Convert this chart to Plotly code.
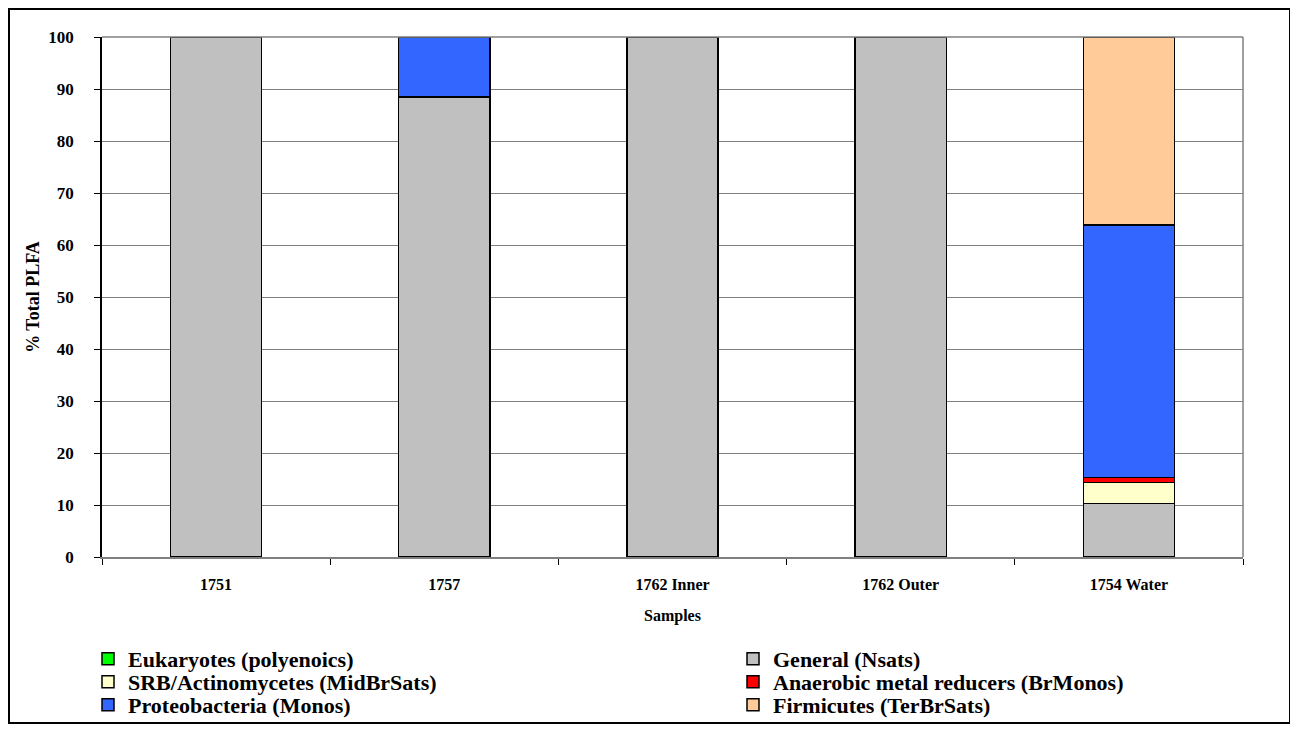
import plotly.graph_objects as go

samples = ["1751", "1757", "1762 Inner", "1762 Outer", "1754 Water"]
series_names = [
    "Eukaryotes (polyenoics)",
    "General (Nsats)",
    "SRB/Actinomycetes (MidBrSats)",
    "Anaerobic metal reducers (BrMonos)",
    "Proteobacteria (Monos)",
    "Firmicutes (TerBrSats)",
]
eukaryotes = [0, 0, 0, 0, 0]
general = [100, 88.5, 100, 100, 10.3]
srb = [0, 0, 0, 0, 4.0]
anaerobic = [0, 0, 0, 0, 1.0]
proteobacteria = [0, 11.5, 0, 0, 48.5]
firmicutes = [0, 0, 0, 0, 36.2]
colors = ["#00FF00", "#C0C0C0", "#FFFFCC", "#FF0000", "#3366FF", "#FFCC99"]
yticks = [0, 10, 20, 30, 40, 50, 60, 70, 80, 90, 100]

values = [eukaryotes, general, srb, anaerobic, proteobacteria, firmicutes]

FONT = "Liberation Serif, Times New Roman, serif"

# page body has an 8px margin; layout coords = screen coords - OFF
OFF = 8
W, H = 1283, 717
plot_left, plot_right, plot_top, plot_bottom = 102, 1243, 37, 557  # screen px
L = plot_left - OFF
R = W - (plot_right - OFF)
T = plot_top - OFF
B = H - (plot_bottom - OFF)
pw, ph = W - L - R, H - T - B


def px_x(x):
    return (x - OFF - L) / pw


def px_y(y):
    return (plot_bottom - y) / ph


legend_ids = ["legend", "legend2", "legend3", "legend4", "legend5", "legend6"]
col_x = [88, 733]
row_y = [659, 682, 705]

fig = go.Figure()
for i, (name, vals, col) in enumerate(zip(series_names, values, colors)):
    fig.add_trace(go.Bar(
        x=samples, y=vals, name=name,
        legend=legend_ids[i],
        marker=dict(color=col, line=dict(color="#000000", width=1.5)),
    ))

legend_layouts = {}
for i, lid in enumerate(legend_ids):
    r, c = divmod(i, 2)
    legend_layouts[lid] = dict(
        x=px_x(col_x[c]), y=px_y(row_y[r]),
        xanchor="left", yanchor="middle",
        font=dict(family=FONT, size=22, color="black", weight="bold"),
        bgcolor="rgba(0,0,0,0)", borderwidth=0,
    )

fig.update_layout(
    width=W, height=H,
    barmode="stack", bargap=0.6,
    margin=dict(l=L, r=R, t=T, b=B, pad=0, autoexpand=False),
    plot_bgcolor="white", paper_bgcolor="white",
    font=dict(family=FONT, color="black"),
    showlegend=True,
    xaxis=dict(
        showline=True, linecolor="#808080", linewidth=1.5,
        ticks="outside", ticklen=6, tickcolor="#000000",
        tickson="boundaries",
        ticklabelstandoff=12,
        tickfont=dict(family=FONT, size=16, weight="bold"),
        title=dict(text="Samples", font=dict(family=FONT, size=16, weight="bold"), standoff=18),
    ),
    yaxis=dict(
        range=[0, 100], tickvals=yticks,
        showline=True, linecolor="#000000", linewidth=1.5,
        ticks="outside", ticklen=6, tickcolor="#000000",
        showgrid=True, gridcolor="#808080", gridwidth=1.2,
        zeroline=False,
        ticklabelstandoff=17,
        tickfont=dict(family=FONT, size=17, weight="bold"),
        title=dict(text="% Total PLFA", font=dict(family=FONT, size=18, weight="bold"), standoff=4),
    ),
    shapes=[
        dict(type="line", xref="paper", yref="paper", x0=0, x1=1, y0=1, y1=1,
             line=dict(color="#808080", width=1.5)),
        dict(type="line", xref="paper", yref="paper", x0=1, x1=1, y0=0, y1=1,
             line=dict(color="#808080", width=1.5)),
        dict(type="rect", xref="paper", yref="paper",
             x0=px_x(9), x1=px_x(1290), y0=px_y(723), y1=px_y(9),
             line=dict(color="#000000", width=2), fillcolor="rgba(0,0,0,0)"),
    ],
    **legend_layouts,
)

fig.write_html("out.html")
